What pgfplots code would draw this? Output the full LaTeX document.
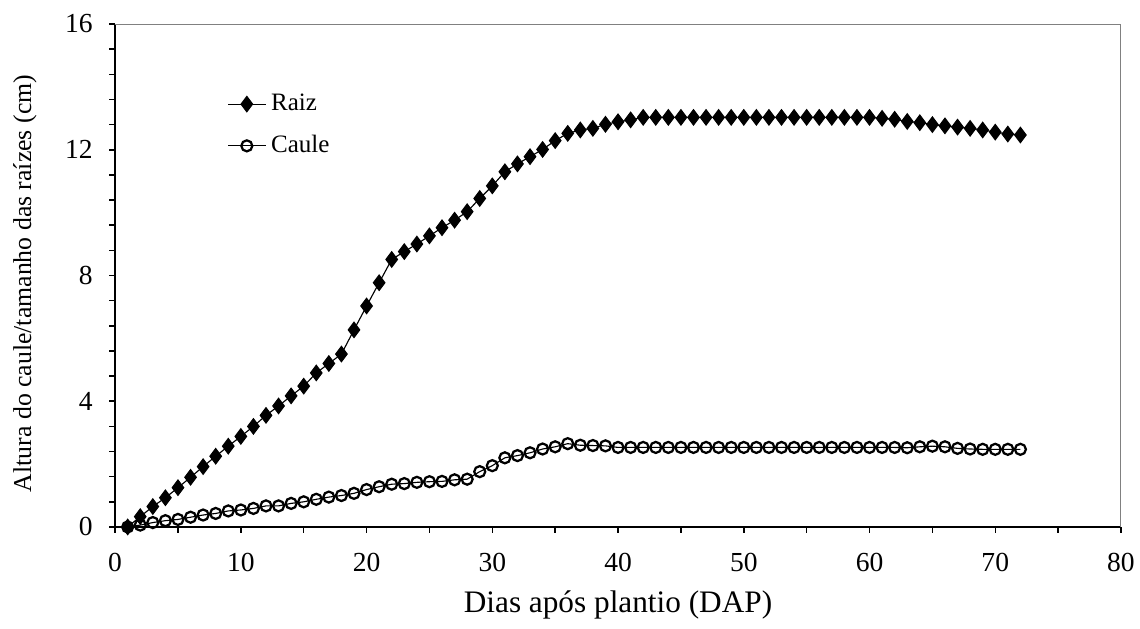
\documentclass[border=0pt]{standalone}
\usepackage{fontspec}
\setmainfont{Liberation Serif}
\usepackage{pgfplots}
\pgfplotsset{compat=1.18}
\usepackage{pgfplotstable}

\pgfplotstableread{
d v
1 0.0
2 0.33
3 0.65
4 0.93
5 1.25
6 1.58
7 1.92
8 2.25
9 2.57
10 2.88
11 3.2
12 3.55
13 3.85
14 4.17
15 4.48
16 4.9
17 5.2
18 5.5
19 6.27
20 7.03
21 7.77
22 8.51
23 8.76
24 9.0
25 9.26
26 9.52
27 9.76
28 10.03
29 10.45
30 10.85
31 11.3
32 11.55
33 11.78
34 12.01
35 12.29
36 12.52
37 12.63
38 12.68
39 12.81
40 12.89
41 12.95
42 13.03
43 13.03
44 13.03
45 13.03
46 13.03
47 13.03
48 13.03
49 13.03
50 13.03
51 13.03
52 13.03
53 13.03
54 13.03
55 13.03
56 13.03
57 13.03
58 13.03
59 13.03
60 13.03
61 13.0
62 12.97
63 12.9
64 12.86
65 12.8
66 12.76
67 12.72
68 12.68
69 12.63
70 12.56
71 12.5
72 12.47
}\raiz

\pgfplotstableread{
d v
1 0.0
2 0.06
3 0.14
4 0.2
5 0.24
6 0.31
7 0.38
8 0.43
9 0.51
10 0.54
11 0.59
12 0.67
13 0.67
14 0.75
15 0.8
16 0.88
17 0.95
18 1.0
19 1.07
20 1.19
21 1.28
22 1.36
23 1.38
24 1.42
25 1.44
26 1.45
27 1.5
28 1.52
29 1.76
30 1.95
31 2.2
32 2.27
33 2.36
34 2.48
35 2.55
36 2.65
37 2.6
38 2.59
39 2.58
40 2.53
41 2.53
42 2.53
43 2.53
44 2.53
45 2.53
46 2.53
47 2.53
48 2.53
49 2.53
50 2.53
51 2.53
52 2.53
53 2.53
54 2.53
55 2.53
56 2.53
57 2.53
58 2.53
59 2.53
60 2.53
61 2.53
62 2.53
63 2.52
64 2.55
65 2.57
66 2.55
67 2.5
68 2.48
69 2.47
70 2.47
71 2.47
72 2.47
}\caule

\begin{document}
\begin{tikzpicture}
\begin{axis}[
  scale only axis,
  width=402pt, height=201pt,
  xmin=0, xmax=80, ymin=0, ymax=16,
  axis lines*=left,
  axis line style={line width=0.7pt, black},
  xtick={0,10,...,80},
  minor xtick={5,15,...,75},
  ytick={0,4,8,12,16},
  minor ytick={0.8,1.6,2.4,3.2,4.8,5.6,6.4,7.2,8.8,9.6,10.4,11.2,12.8,13.6,14.4,15.2},
  tick align=outside,
  major tick length=2.4pt,
  minor tick length=2.4pt,
  tick style={line width=0.6pt, black},
  /pgf/number format/assume math mode=true,
  ticklabel style={font=\fontsize{11}{13}\selectfont},
  xticklabel style={yshift=-4.5pt},
  yticklabel style={xshift=-3pt},
  xlabel={Dias após plantio (DAP)},
  ylabel={Altura do caule/tamanho das raízes (cm)},
  xlabel style={font=\fontsize{12.5}{14}\selectfont, at={(axis description cs:0.5,0)}, anchor=center, yshift=-31pt},
  ylabel style={font=\fontsize{10.3}{12}\selectfont, at={(axis description cs:0,0.484)}, anchor=center, rotate=0, yshift=36pt},
  legend style={draw=none, fill=none, at={(axis cs:8.9,13.95)}, anchor=north west,
    font=\fontsize{10}{12}\selectfont, row sep=4.4pt, inner sep=0pt},
  legend cell align=left,
  legend image code/.code={\draw[mark repeat=2, mark phase=2] plot coordinates {(0pt,0pt) (7.5pt,0pt) (15pt,0pt)};},
  clip=false,
]
\addplot[black, line width=0.45pt, mark=diamond*, mark size=3.1pt, mark options={fill=black, line width=0.4pt}] table[x=d, y=v] {\raiz};
\addlegendentry{Raiz}
\addplot[black, line width=0.45pt, mark=o, mark size=2.2pt, mark options={fill=white, line width=0.9pt}] table[x=d, y=v] {\caule};
\addlegendentry{Caule}
\draw[gray, line width=0.4pt] (rel axis cs:0,1) -- (rel axis cs:1,1) -- (rel axis cs:1,0);
\coordinate (sw) at (rel axis cs:0,0);
\coordinate (ne) at (rel axis cs:1,1);
\end{axis}
\pgfresetboundingbox
\path[use as bounding box] ([shift={(-46pt,-40.4pt)}]sw) rectangle ([shift={(7.6pt,9.6pt)}]ne);
\end{tikzpicture}
\end{document}
